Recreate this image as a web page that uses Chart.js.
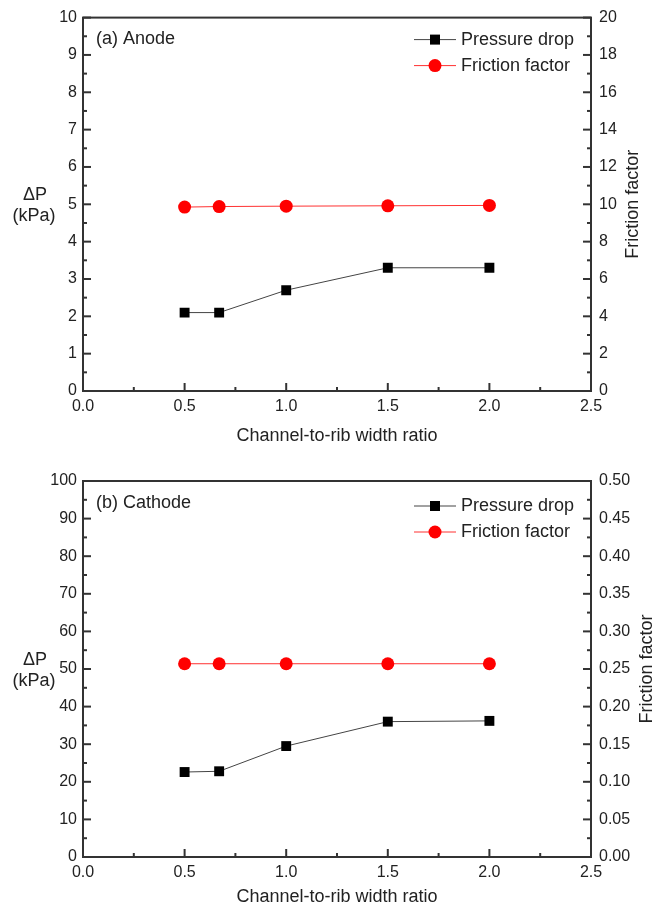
<!DOCTYPE html>
<html>
<head>
<meta charset="utf-8">
<script src="https://cdn.jsdelivr.net/npm/chart.js@4/dist/chart.umd.min.js"></script>
<style>
  body { margin: 0; background: #fff; }
  canvas { position: absolute; left: 0; }
</style>
</head>
<body>
<canvas id="anode" width="664" height="450" style="top:0"></canvas>
<canvas id="cathode" width="664" height="459" style="top:450px"></canvas>
<script>
// channel-to-rib width ratio
const ratio = [0.5, 0.67, 1.0, 1.5, 2.0];
// (a) anode
const anodeDp = [2.1, 2.1, 2.7, 3.3, 3.3];
const anodeF = [9.85, 9.88, 9.9, 9.92, 9.94];
// (b) cathode
const cathodeDp = [22.6, 22.8, 29.5, 36.0, 36.2];
const cathodeF = [0.257, 0.257, 0.257, 0.257, 0.257];

const FONT = "'Liberation Sans', Arial, sans-serif";
const INK = '#222';

function pts(ys) {
    return ratio.map((x, i) => ({ x: x, y: ys[i] }));
}

// frame, inside ticks, legend and titles
const decor = {
    id: 'decor',
    afterDraw(chart, args, o) {
        const ctx = chart.ctx;
        const a = chart.chartArea;
        ctx.save();
        ctx.strokeStyle = '#333';
        ctx.lineWidth = 2;
        ctx.strokeRect(a.left, a.top, a.right - a.left, a.bottom - a.top);

        function ticks(scale, step, side) {
            ctx.lineWidth = 2;
            let n = Math.round((scale.max - scale.min) / step);
            for (let i = 0; i <= n; i++) {
                let v = scale.min + i * step;
                let len = (i % 2 == 0) ? 8 : 4;
                let p = scale.getPixelForValue(v);
                ctx.beginPath();
                if (side == 'left') { ctx.moveTo(a.left, p); ctx.lineTo(a.left + len, p); }
                if (side == 'right') { ctx.moveTo(a.right, p); ctx.lineTo(a.right - len, p); }
                if (side == 'bottom') { ctx.moveTo(p, a.bottom); ctx.lineTo(p, a.bottom - len); }
                ctx.stroke();
            }
        }
        ticks(chart.scales.y, o.yStep / 2, 'left');
        ticks(chart.scales.y1, o.y1Step / 2, 'right');
        ticks(chart.scales.x, 0.25, 'bottom');

        ctx.fillStyle = INK;
        ctx.font = '18px ' + FONT;
        ctx.textBaseline = 'middle';
        ctx.textAlign = 'left';
        ctx.fillText(o.panel, 96, a.top + o.panelDy);

        // legend
        chart.data.datasets.forEach((ds, i) => {
            let y = a.top + o.legDy + i * 26;
            ctx.strokeStyle = ds.borderColor;
            ctx.lineWidth = 1;
            ctx.beginPath();
            ctx.moveTo(414, y);
            ctx.lineTo(456, y);
            ctx.stroke();
            ctx.fillStyle = ds.pointBackgroundColor;
            if (ds.pointStyle == 'rect') {
                ctx.fillRect(430, y - 5, 10, 10);
            } else {
                ctx.beginPath();
                ctx.arc(435, y, 6.5, 0, Math.PI * 2);
                ctx.fill();
            }
            ctx.fillStyle = INK;
            ctx.fillText(ds.label, 461, y);
        });

        // axis titles
        ctx.textAlign = 'center';
        let midY = (a.top + a.bottom) / 2;
        ctx.fillText('\u0394P', 35, midY - 9);
        ctx.fillText('(kPa)', 34, midY + 12);
        ctx.fillText('Channel-to-rib width ratio', (a.left + a.right) / 2, a.bottom + o.xTitleDy);
        ctx.translate(o.rightTitleX, midY);
        ctx.rotate(-Math.PI / 2);
        ctx.fillText('Friction factor', 0, 0);
        ctx.restore();
    }
};

function makeChart(id, dp, ff, opts) {
    return new Chart(document.getElementById(id), {
        type: 'line',
        data: {
            datasets: [{
                label: 'Pressure drop',
                data: pts(dp),
                yAxisID: 'y',
                borderColor: '#444',
                borderWidth: 1,
                pointStyle: 'rect',
                pointRadius: 7,
                pointBackgroundColor: '#000',
                pointBorderWidth: 0,
                tension: 0
            }, {
                label: 'Friction factor',
                data: pts(ff),
                yAxisID: 'y1',
                borderColor: '#ff3030',
                borderWidth: 1,
                pointStyle: 'circle',
                pointRadius: 6.5,
                pointBackgroundColor: '#ff0000',
                pointBorderWidth: 0,
                tension: 0
            }]
        },
        options: {
            responsive: false,
            animation: false,
            layout: { padding: { top: opts.top, left: 0, right: 0, bottom: 0 } },
            plugins: { legend: { display: false }, tooltip: { enabled: false }, decor: opts },
            scales: {
                x: {
                    type: 'linear', min: 0, max: 2.5,
                    grid: { display: false, drawTicks: false }, border: { display: false },
                    ticks: { stepSize: 0.5, padding: 6, color: INK, font: { family: FONT, size: 16 },
                        callback: v => v.toFixed(1) },
                    afterFit: s => { s.height = opts.xH; }
                },
                y: {
                    position: 'left', min: 0, max: opts.yMax,
                    grid: { display: false, drawTicks: false }, border: { display: false },
                    ticks: { stepSize: opts.yStep, padding: 6, color: INK, font: { family: FONT, size: 16 } },
                    afterFit: s => { s.width = 83; }
                },
                y1: {
                    position: 'right', min: 0, max: opts.y1Max,
                    grid: { display: false, drawTicks: false }, border: { display: false },
                    ticks: { stepSize: opts.y1Step, padding: 8, color: INK, font: { family: FONT, size: 16 },
                        callback: v => v.toFixed(opts.y1Dec) },
                    afterFit: s => { s.width = 73; }
                }
            }
        },
        plugins: [decor]
    });
}

makeChart('anode', anodeDp, anodeF, {
    top: 14, xH: 59, yMax: 10, yStep: 1, y1Max: 20, y1Step: 2, y1Dec: 0,
    panel: '(a) Anode', panelDy: 21, legDy: 22, xTitleDy: 45, rightTitleX: 633
});
makeChart('cathode', cathodeDp, cathodeF, {
    top: 31, xH: 52, yMax: 100, yStep: 10, y1Max: 0.5, y1Step: 0.05, y1Dec: 2,
    panel: '(b) Cathode', panelDy: 22, legDy: 25, xTitleDy: 40, rightTitleX: 647
});
</script>
</body>
</html>
